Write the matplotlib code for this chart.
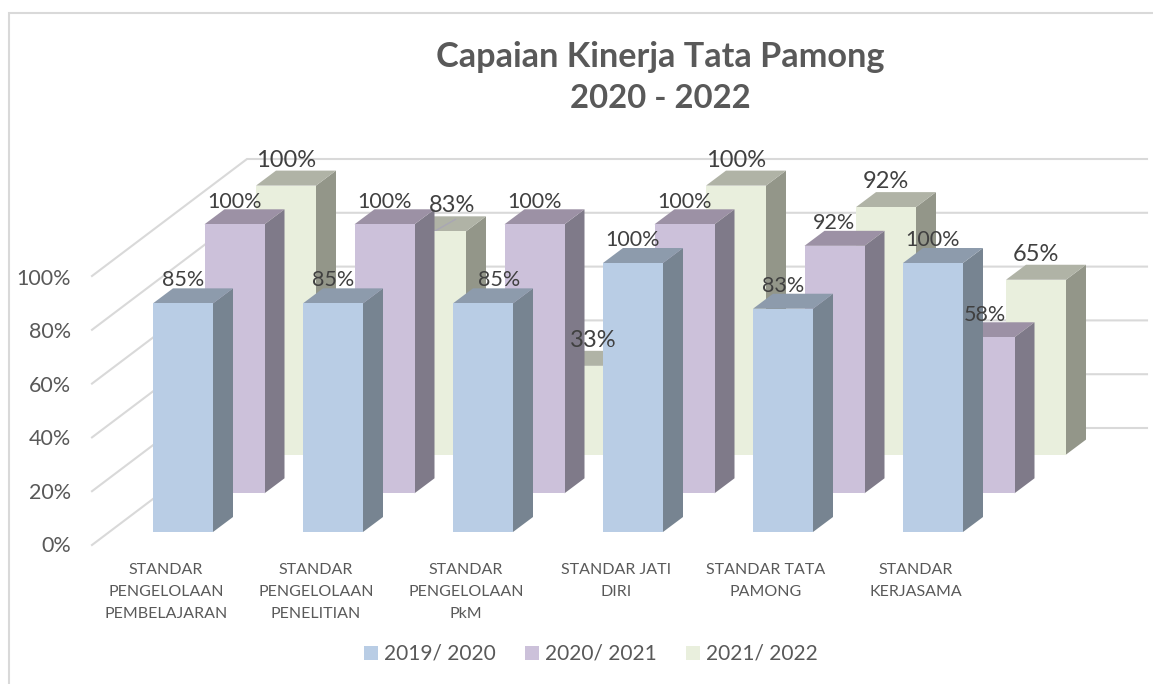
import matplotlib
matplotlib.use('Agg')
import matplotlib.pyplot as plt
from matplotlib.patches import Polygon

categories = ['STANDAR\nPENGELOLAAN\nPEMBELAJARAN', 'STANDAR\nPENGELOLAAN\nPENELITIAN',
              'STANDAR\nPENGELOLAAN\nPkM', 'STANDAR JATI\nDIRI', 'STANDAR TATA\nPAMONG',
              'STANDAR\nKERJASAMA']
series_names = ['2019/ 2020', '2020/ 2021', '2021/ 2022']
vals_2019 = [85, 85, 85, 100, 83, 100]
vals_2020 = [100, 100, 100, 100, 92, 58]
vals_2021 = [100, 83, 33, 100, 92, 65]
yticks = [0, 20, 40, 60, 80, 100]

W, H = 1153, 684
PX_X = 150.0   # pixels per category
PX_Y = 2.69    # pixels per percent
X0, Y0 = 183.0, 532.0  # pixel of category 0 / value 0 in the front row

front = ['#B9CDE5', '#CCC1DA', '#E9EFDD']
tops = ['#8D9BAC', '#9C91A5', '#B0B3A6']
sides = ['#778491', '#7F7A89', '#939689']

plt.rcParams['font.family'] = ['Lato', 'DejaVu Sans']


def px(x, y):
    '''pixel position to data coordinates'''
    return (x - X0) / PX_X, (Y0 - y) / PX_Y


fig = plt.figure(figsize=(W / 100, H / 100), dpi=100)
ax = fig.add_axes([0, 0, 1, 1])
ax.set_xlim(px(0, 0)[0], px(W, 0)[0])
ax.set_ylim(px(0, H)[1], px(0, 0)[1])
ax.axis('off')

# chart border, only left and top are inside the crop
bx = [px(9, 0)[0], px(9, 0)[0], px(W, 0)[0]]
by = [px(0, H)[1], px(0, 13)[1], px(0, 13)[1]]
ax.plot(bx, by, color='#D9D9D9', lw=1.5, zorder=1, solid_joinstyle='miter')

# walls
xa = px(92, 0)[0]
xb = px(247, 0)[0]
xc = px(1147, 0)[0]
rise = 117 / PX_Y
base = px(0, 545)[1]
for t in yticks:
    y = base + t
    ax.plot([xa, xb, xc], [y, y + rise, y + rise], color='#D9D9D9', lw=1.5, zorder=1,
            solid_joinstyle='miter')
    tx, ty = px(71, 0)[0], px(0, 546 - t * 2.67)[1]
    ax.text(tx, ty, '%d%%' % t, ha='right', va='center', fontsize=15.5, color='#595959')

# bars, back row first
rows = [vals_2019, vals_2020, vals_2021]
row_dx = 51.5 / PX_X
row_dy = 38.7 / PX_Y
width = 60 / PX_X
dep_x = 20 / PX_X
dep_y = 15 / PX_Y
handles = {}
for k in [2, 1, 0]:
    cx = [i + k * row_dx for i in range(len(categories))]
    bottom = k * row_dy
    z = 10 + (2 - k)
    bars = ax.bar(cx, rows[k], width=width, bottom=bottom, color=front[k], zorder=z + 0.5,
                  label=series_names[k])
    handles[k] = bars
    for c, v in zip(cx, rows[k]):
        l, r = c - width / 2, c + width / 2
        t = bottom + v
        ax.add_patch(Polygon([(r, bottom), (r + dep_x, bottom + dep_y), (r + dep_x, t + dep_y), (r, t)],
                             closed=True, fc=sides[k], ec='none', zorder=z))
        ax.add_patch(Polygon([(l, t), (l + dep_x, t + dep_y), (r + dep_x, t + dep_y), (r, t)],
                             closed=True, fc=tops[k], ec='none', zorder=z))

# thin seam on the top of the 83% bar, where the neighbour's shadow ends
seam_x = 1 + row_dx + width / 2 + dep_x
seam_t = 2 * row_dy + vals_2021[1]
ax.plot([seam_x, seam_x + dep_x * 1.05], [seam_t, seam_t + dep_y * 0.8], color='#A9A7B4', lw=1, zorder=10.2)

# data labels
nudges = [[0, 0, 16, 0, 0, 0], [0, 0, 0, 0, 0, 0], [0, 16, 7, 0, 0, 0]]
sizes = [15.5, 15.5, 17]
gaps = [23, 22.5, 25.5]
for k in [2, 1, 0]:
    for i, v in enumerate(rows[k]):
        lx = i + k * row_dx + nudges[k][i] / PX_X
        ly = k * row_dy + v + gaps[k] / PX_Y
        ax.text(lx, ly, '%d%%' % v, ha='center', va='center', fontsize=sizes[k], color='#404040', zorder=30)

# category labels
for i, name in enumerate(categories):
    ax.text(px(166 + i * PX_X, 0)[0], px(0, 562.5)[1], name, ha='center', va='top', fontsize=11.5,
            color='#595959', linespacing=1.75)

# title
tx, ty = px(660, 57)
ax.text(tx, ty, 'Capaian Kinerja Tata Pamong', ha='center', va='center', fontsize=24.7, fontweight='bold', color='#595959')
tx, ty = px(660, 98)
ax.text(tx, ty, '2020 - 2022', ha='center', va='center', fontsize=23.7, fontweight='bold', color='#595959')

leg = ax.legend([handles[0], handles[1], handles[2]], series_names, ncol=3, loc='center',
                bbox_to_anchor=(590.5 / W, 1 - 654 / H), frameon=False, fontsize=15,
                labelcolor='#595959', handlelength=0.67, handleheight=0.67, handletextpad=0.29,
                columnspacing=1.4)

fig.savefig('out.png', dpi=100)
